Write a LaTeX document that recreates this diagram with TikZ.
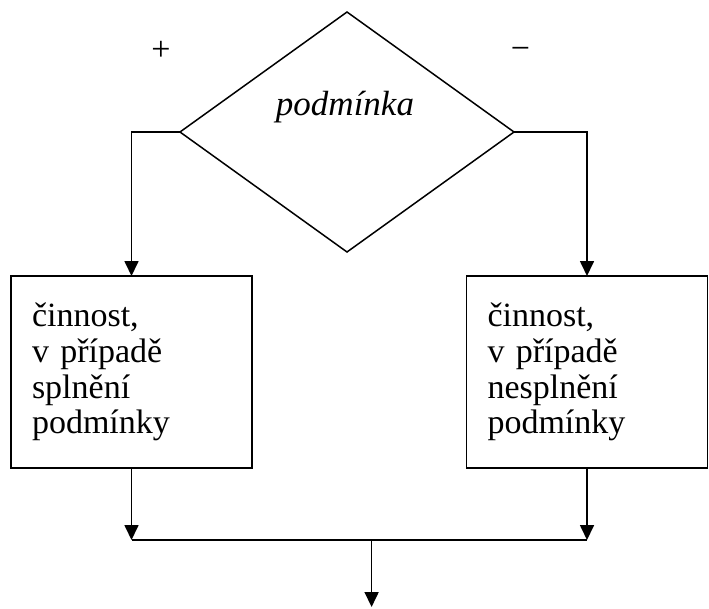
\documentclass[tikz,border=0pt]{standalone}
\usepackage{fontspec}
\setmainfont{Liberation Serif}
\usetikzlibrary{shapes.geometric,arrows.meta}
\begin{document}
\begin{tikzpicture}[x=1pt,y=-1pt,
  line width=1.7pt,
  arr/.style={-{Triangle[length=15pt,width=14pt]}},
  cond/.style={draw,diamond,line width=1.5pt,minimum width=334pt,minimum height=240pt,inner sep=0pt,outer sep=0pt},
  actbox/.style={draw,rectangle,minimum width=241pt,minimum height=192pt,text width=199pt,inner xsep=21pt,inner ysep=0pt,outer sep=0pt,align=left,font=\fontsize{34}{35.7}\selectfont},
  lbl/.style={font=\fontsize{34}{36}\selectfont,inner sep=0pt,anchor=base}]
\useasboundingbox (0,0) rectangle (709,608);
\node[cond] (d) at (347,132) {};
\node[font=\fontsize{35}{38}\selectfont\itshape,anchor=base,inner sep=0pt] (dt) at (345,115) {podmínka};
\node[lbl] (plus) at (161,60) {+};
\node[lbl] (minus) at (520.5,59.5) {−};
\node[actbox] (lb) at (131.5,372) {činnost,\\v případě\\splnění\\podmínky};
\node[actbox] (rb) at (587,372) {činnost,\\v případě\\nesplnění\\podmínky};
\coordinate (jl) at (131.5,540);
\coordinate (jr) at (587,540);
\coordinate (jm) at (371.6,540);
\coordinate (out) at (371.6,607);
\draw[arr] (d.west) -| (lb.north);
\draw[arr] (d.east) -| (rb.north);
\draw[arr] (lb.south) -- (jl);
\draw[arr] (rb.south) -- (jr);
\draw (jl) -- (jr);
\draw[arr] (jm) -- (out);
\end{tikzpicture}
\end{document}
